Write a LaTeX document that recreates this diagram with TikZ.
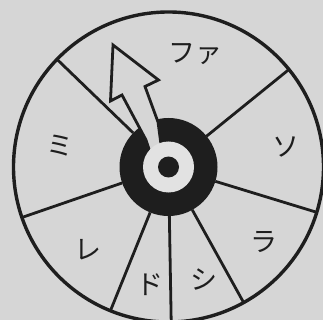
\documentclass[tikz,border=0pt]{standalone}
\usepackage{fontspec}
\newfontfamily\jp{Noto Sans CJK JP}
\definecolor{bg}{RGB}{214,214,214}
\definecolor{ringc}{RGB}{226,226,226}
\definecolor{ink}{RGB}{30,30,30}
\begin{document}
\begin{tikzpicture}[x=1pt,y=-1pt,
  spoke/.style={draw=ink, line width=2.8pt},
  lab/.style={font=\jp\fontsize{27}{27}\selectfont, text=ink, inner sep=0pt},
  rim/.style={circle, inner sep=0pt, outer sep=0pt}]
\useasboundingbox (0,0) rectangle (323,320);
\clip (0,0) rectangle (323,320);
\fill[bg] (0,0) rectangle (323,320);
\node[rim, draw=ink, line width=3.4pt, minimum size=310pt] (wheel) at (168.5,167) {};
\node[rim, fill=ink, minimum size=98pt] (disc) at (168.5,167) {};
\foreach \a in {136.7,39.3,-17.3,-61.7,-89.5,-112,199.5}{
  \draw[spoke] (disc.\a) -- (wheel.\a);
}
% pointer
\draw[draw=ink, fill=bg, line width=2.8pt, line join=miter]
  (113,45) -- (110.5,101) -- (122,95) -- (146,140) -- (150,152) -- (162,152)
  -- (158,122) -- (145,86.5) -- (158.5,80) -- cycle;
\node[rim, fill=ringc, minimum size=51pt] (hub) at (168.5,167) {};
\node[rim, fill=ink, minimum size=21pt] (pin) at (168.5,167) {};
% labels
\node[lab] (fa) at (195,54) {ファ};
\node[lab] (so) at (286,147) {ソ};
\node[lab] (ra) at (264,242) {ラ};
\node[lab] (shi) at (204,280) {シ};
\node[lab] (do) at (149.5,285) {ド};
\node[lab] (re) at (87.5,250) {レ};
\node[lab] (mi) at (59.5,146) {ミ};
\end{tikzpicture}
\end{document}
